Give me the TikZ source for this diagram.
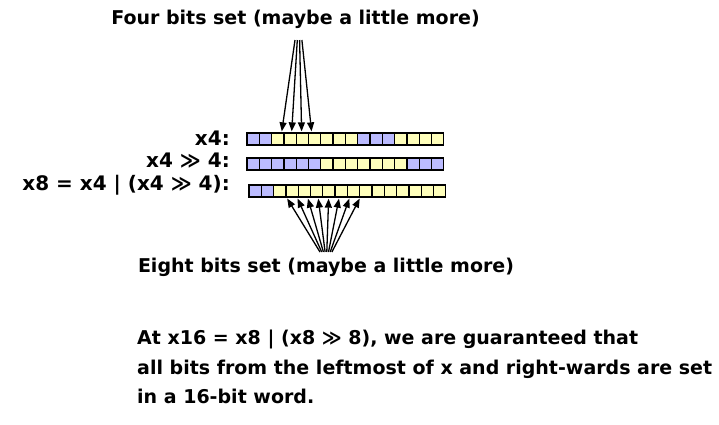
\documentclass[tikz,border=0pt]{standalone}
\usepackage{fontspec}
\setmainfont{DejaVu Sans}
\usetikzlibrary{arrows.meta}
\definecolor{bitb}{RGB}{187,187,255}
\definecolor{bity}{RGB}{255,255,187}
\newcommand{\shr}{≫}
\tikzset{
  bit/.style={draw, line width=1.3pt, minimum width=12.3pt, minimum height=12pt, inner sep=0pt},
  note/.style={font=\bfseries\fontsize{19}{29.5}\selectfont, inner sep=0pt},
  lbl/.style={note, font=\bfseries\fontsize{20}{24}\selectfont, anchor=base east},
  sig/.style={-{Triangle[length=9pt,width=7pt]}, line width=1.3pt, shorten >=1pt}
}
\begin{document}
\begin{tikzpicture}[x=1pt,y=-1pt]
\useasboundingbox (0,0) rectangle (719,424);
% the three 16-bit rows
\foreach \c [count=\i] in {b,b,y,y,y,y,y,y,y,b,b,b,y,y,y,y}
  \node[bit, fill=bit\c] (ra-\i) at ({247+12.3*(\i-0.5)},139) {};
\foreach \c [count=\i] in {b,b,b,b,b,b,y,y,y,y,y,y,y,b,b,b}
  \node[bit, fill=bit\c] (rb-\i) at ({247+12.3*(\i-0.5)},164) {};
\foreach \c [count=\i] in {b,b,y,y,y,y,y,y,y,y,y,y,y,y,y,y}
  \node[bit, fill=bit\c] (rc-\i) at ({249+12.3*(\i-0.5)},191) {};
% row labels
\node[lbl] (la) at (230,145) {x4:};
\node[lbl] (lb) at (230,167) {x4 \shr{} 4:};
\node[lbl] (lc) at (230,190) {x8 = x4 | (x4 \shr{} 4):};
% four bits
\node[note] (four) at (295.5,19) {Four bits set (maybe a little more)};
\foreach \k in {0,...,3} {
  \coordinate (f\k) at ({295+2.3*\k},40);
  \pgfmathtruncatemacro{\j}{\k+3}
  \draw[sig] (f\k) -- ([xshift={3.9-2.3*\k}]ra-\j.north);
}
% eight bits
\foreach \k in {0,...,7} {
  \coordinate (e\k) at ({320+1.7*\k},252);
  \pgfmathtruncatemacro{\j}{\k+3}
  \draw[sig] (e\k) -- ([xshift={6.9-1.8*\k}]rc-\j.south);
}
\node[note] (eight) at (326,267) {Eight bits set (maybe a little more)};
% explanation
\node[note, anchor=north west, align=left] (para) at (137,330)
  {At x16 = x8 | (x8 \shr{} 8), we are guaranteed that\\
   all bits from the leftmost of x and right-wards are set\\
   in a 16-bit word.};
\end{tikzpicture}
\end{document}
